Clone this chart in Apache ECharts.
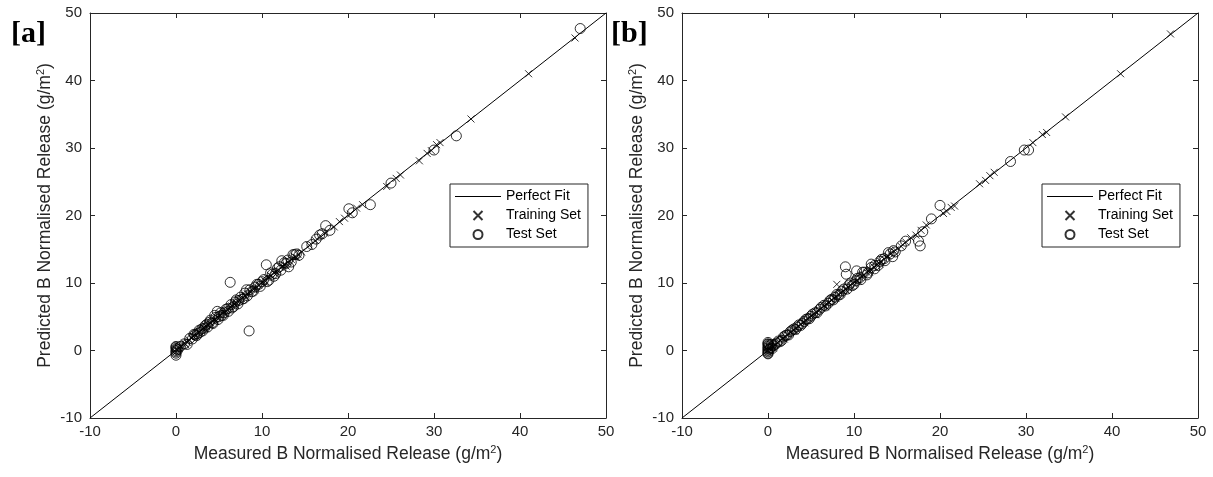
<!DOCTYPE html>
<html>
<head>
<meta charset="utf-8">
<script src="https://cdn.jsdelivr.net/npm/echarts@6/dist/echarts.min.js"></script>
<style>html,body{margin:0;padding:0;background:#fff}#c{width:1213px;height:477px}</style>
</head>
<body>
<div id="c"></div>
<script>
// ---- data ----
var panelLabels = ['[a]', '[b]'];
var seriesNames = ['Perfect Fit', 'Training Set', 'Test Set'];
var axisRange = [-10, 50];
var tickStep = 10;
var fitX = [-10, 50];
var fitY = [-10, 50];

var trainA = [[0,0.2],[0,-0.2],[0.3,0.4],[0.5,0.6],[0.8,0.9],[1,1.1],[1.3,1.2],[1.5,1.6],[1.8,1.9],[2,2.1],[2.2,2.4],[2.5,2.6],[2.7,2.8],[3,3.1],[3.2,3.4],[3.5,3.6],[3.7,3.9],[4,4.1],[4.2,4.4],[4.5,4.6],[4.8,4.9],[5,5.2],[5.3,5.4],[5.5,5.7],[5.8,5.9],[6,6.1],[6.3,6.5],[6.5,6.6],[6.8,7],[7,7.1],[7.3,7.5],[7.6,7.7],[8,8.1],[8.3,8.4],[8.6,8.8],[9,9.1],[9.3,9.5],[9.6,9.7],[10,10.1],[10.3,10.4],[10.6,10.8],[11,11.1],[11.4,11.5],[11.8,11.9],[12.2,12.3],[12.6,12.7],[13,13.1],[13.4,13.5],[13.8,13.9],[14.2,14.2],[14.6,14.6],[15.5,15.6],[16.2,16.3],[16.8,17],[17.3,17.4],[18.4,18.3],[19,19.1],[19.6,19.6],[20.3,20.2],[21,21.1],[21.7,21.6],[24.5,24.3],[25.6,25.5],[26.1,26],[28.3,28.1],[29.2,29.2],[29.7,29.6],[30.3,30.5],[30.7,30.8],[34.3,34.3],[41,41],[46.4,46.3],
  [1.1,0.9],[2.3,2.1],[3.4,3.2],[4.6,4.3],[5.7,5.5],[6.9,6.7],[8.1,7.9],[9.2,9],[10.4,10.2],[11.6,11.3],[12.8,12.5],[14,13.8]];
var testA = [[0,-0.7],[0,-0.4],[0,0],[0,0.3],[0,0.6],[0.1,0.2],[1,1],[1.3,0.9],[2.2,2.3],[2.5,2.5],[2.8,2.7],[3,3.2],[3.3,3.3],[3.6,3.9],[3.9,4.2],[4.2,4.1],[4.5,5.2],[4.8,5.8],[5,5],[5.3,5.2],[5.6,5.6],[6,6.2],[6.3,10.1],[6.5,6.3],[6.9,7.2],[7.3,7.4],[7.7,7.6],[8,8.5],[8.2,9],[8.5,2.9],[8.8,8.7],[9.2,9.4],[9.6,9.8],[10,10.2],[10.5,12.7],[10.8,10.4],[11.2,11.3],[11.6,11.4],[12,12.4],[12.3,13.3],[12.8,12.9],[13.1,12.4],[13.6,14.2],[14,14.3],[16.3,16.5],[16.7,17.1],[17.4,18.5],[17.9,17.8],[20.1,21],[20.5,20.4],[22.6,21.6],[25,24.8],[30,29.7],[32.6,31.8],[47,47.7],
  [0,-0.2],[0,0.5],[0.2,0.1],[0.5,0.6],[1.6,1.8],[1.9,1.7],[2.1,2.4],[2.4,2.2],[2.7,3],[3.1,2.9],[3.4,3.7],[3.7,3.5],[4,4.5],[4.3,4],[4.6,4.9],[4.9,4.6],[5.2,5.6],[5.5,5.2],[5.8,6.1],[6.1,5.8],[6.4,6.8],[6.7,6.5],[7,7.5],[7.2,6.9],[7.5,7.9],[7.9,7.7],[8.3,8.1],[8.6,9],[9,8.8],[9.4,9.8],[9.8,9.5],[10.2,10.5],[10.6,10.2],[11,11.5],[11.4,11],[11.8,12.2],[12.2,11.9],[12.6,13],[13,13.4],[13.4,13.1],[13.8,14.2],[14.3,14.1],[15.2,15.4],[15.8,15.7],[17,17.3]];

var trainB = [[0,0.1],[0,-0.3],[0.2,0.5],[0.5,0.6],[0.8,0.8],[1.1,1.2],[1.4,1.5],[1.7,1.8],[2,2.1],[2.3,2.4],[2.6,2.7],[2.9,3],[3.2,3.3],[3.5,3.6],[3.8,3.9],[4.1,4.2],[4.4,4.5],[4.7,4.8],[5,5.1],[5.3,5.4],[5.6,5.7],[5.9,6],[6.2,6.3],[6.5,6.6],[6.8,6.9],[7.1,7.2],[7.4,7.5],[7.7,7.8],[8,9.8],[8.1,8.2],[8.4,8.5],[8.7,8.8],[9,9.1],[9.3,9.4],[9.6,9.7],[9.9,10],[10.3,10.4],[10.7,10.8],[11.1,11.2],[11.5,11.6],[11.9,12],[12.3,12.4],[12.7,12.8],[13.1,13.2],[13.5,13.6],[13.9,14],[14.3,14.4],[14.8,14.9],[15.5,15.4],[16,16.1],[16.6,16.7],[17.2,17.1],[17.8,17.8],[18.4,18.6],[20.4,20.3],[20.8,20.6],[21.3,21.2],[21.7,21.4],[24.6,24.7],[25.3,25.2],[25.8,25.9],[26.3,26.4],[30.8,30.8],[31.9,32],[32.4,32.3],[34.6,34.6],[41,41],[46.8,46.9],
  [0.6,0.4],[1.9,1.7],[3.1,2.9],[4.3,4.1],[5.5,5.3],[6.7,6.5],[7.9,7.7],[9.1,8.9],[10.5,10.3],[11.8,11.6],[13,12.8]];
var testB = [[0,-0.5],[0,-0.2],[0,0.2],[0,0.6],[0,0.9],[0,1.2],[0.3,0.4],[0.6,0.7],[1,1.1],[1.4,1.3],[1.8,2],[2.2,2.3],[2.6,2.8],[3,3.2],[3.4,3.5],[3.8,3.7],[4.2,4.3],[4.6,4.7],[5,5.1],[5.5,5.6],[6,6.1],[6.5,6.7],[7,7],[7.4,7.6],[7.8,7.9],[8.2,8.2],[8.6,8.8],[9,12.4],[9.1,11.3],[9.4,9.7],[9.8,9.6],[10.2,10.3],[10.3,11.8],[10.7,10.8],[11,11.6],[11.5,11.2],[12,12.8],[12.4,12.1],[13,13.2],[13.5,13.6],[14,14.5],[14.5,13.9],[14.6,14.8],[15.5,15.5],[16,16.2],[17.5,16.2],[17.7,15.5],[18,17.6],[19,19.5],[20,21.5],[28.2,28],[29.8,29.7],[30.3,29.7],
  [0,0],[0,0.4],[0,1.0],[0,-0.4],[0.1,0.8],[0.2,0.2],[0.4,0.9],[0.5,0.3],[0.8,0.9],[1.2,1.4],[1.6,1.5],[2,2.2],[2.4,2.3],[2.8,3],[3.2,3.1],[3.6,3.8],[4,4],[4.4,4.6],[4.8,4.7],[5.2,5.4],[5.7,5.6],[6.2,6.4],[6.7,6.6],[7.2,7.4],[7.6,7.5],[8,8.3],[8.4,8.3],[8.8,9.1],[9.2,9.1],[9.6,10],[10,9.8],[10.4,10.7],[10.8,10.5],[11.2,11.6],[11.6,11.5],[12,12.3],[12.4,12.6],[12.8,12.6],[13.2,13.5],[13.6,13.3],[14.2,14.3],[14.8,14.6]];

var xTitle = '{t|Measured B Normalised Release (g/m}{s|2}{t|)}';
var yTitle = '{t|Predicted B Normalised Release (g/m}{s|2}{t|)}';

// ---- chart ----
var ink = '#262626';
var FONT = 'Liberation Sans, Arial, sans-serif';
var rich = {
  t: {fontSize: 17.5, fontFamily: FONT, color: ink},
  s: {fontSize: 11, fontFamily: FONT, color: ink, padding: [0, 0, 10, 0]}
};
function mainAxis(gi, pos, title, isX) {
  return {
    type: 'value', gridIndex: gi, position: pos,
    min: axisRange[0], max: axisRange[1], interval: tickStep,
    name: title, nameLocation: 'middle', nameGap: isX ? 26 : 34,
    nameTextStyle: {rich: rich},
    axisLine: {show: true, onZero: false, lineStyle: {color: ink, width: 1}},
    axisTick: {show: true, inside: true, length: 5, lineStyle: {color: ink}},
    axisLabel: {show: true, color: ink, fontSize: 15, fontFamily: FONT, margin: isX ? 6 : 8},
    splitLine: {show: false}
  };
}
function sideAxis(gi, pos) {
  return {
    type: 'value', gridIndex: gi, position: pos,
    min: axisRange[0], max: axisRange[1], interval: tickStep,
    axisLine: {show: true, onZero: false, lineStyle: {color: ink, width: 1}},
    axisTick: {show: true, inside: true, length: 5, lineStyle: {color: ink}},
    axisLabel: {show: false}, splitLine: {show: false}
  };
}
var xMark = 'path://M0,0L10,10M10,0L0,10';
var lineIcon = 'path://M0,0H46V1H0Z';
function panelSeries(ai, train, test) {
  return [
    {name: seriesNames[0], type: 'line', xAxisIndex: ai, yAxisIndex: ai,
     data: fitX.map(function (v, i) { return [v, fitY[i]]; }),
     symbol: 'none', itemStyle: {color: '#000'}, lineStyle: {color: '#000', width: 1}, silent: true, z: 1},
    {name: seriesNames[1], type: 'scatter', xAxisIndex: ai, yAxisIndex: ai,
     data: train, symbol: xMark, symbolSize: 7,
     itemStyle: {color: 'rgba(0,0,0,0)', borderColor: '#000', borderWidth: 1}, z: 2},
    {name: seriesNames[2], type: 'scatter', xAxisIndex: ai, yAxisIndex: ai,
     data: test, symbol: 'circle', symbolSize: 10,
     itemStyle: {color: 'rgba(0,0,0,0)', borderColor: '#000', borderWidth: 1}, z: 3}
  ];
}
function legend(left) {
  return {
    orient: 'vertical', left: left, top: 184,
    data: [
      {name: seriesNames[0], icon: lineIcon, itemStyle: {color: '#000', borderWidth: 0}},
      {name: seriesNames[1]},
      {name: seriesNames[2]}
    ],
    itemWidth: 46, itemHeight: 9, itemGap: 0,
    padding: [3, 7, 3, 5],
    borderColor: ink, borderWidth: 1, backgroundColor: '#fff',
    textStyle: {fontSize: 14, fontFamily: FONT, color: '#000', lineHeight: 19},
    selectedMode: false
  };
}
var chart = echarts.init(document.getElementById('c'), null, {renderer: 'canvas'});
chart.setOption({
  animation: false,
  backgroundColor: '#fff',
  grid: [
    {left: 90, top: 13, width: 516, height: 405},
    {left: 682, top: 13, width: 516, height: 405}
  ],
  xAxis: [mainAxis(0, 'bottom', xTitle, true), sideAxis(0, 'top'),
          mainAxis(1, 'bottom', xTitle, true), sideAxis(1, 'top')],
  yAxis: [mainAxis(0, 'left', yTitle, false), sideAxis(0, 'right'),
          mainAxis(1, 'left', yTitle, false), sideAxis(1, 'right')],
  legend: [legend(450), legend(1042)],
  graphic: [
    {type: 'text', left: 11, top: 19, style: {text: panelLabels[0], font: 'bold 30px "Liberation Serif", "Times New Roman", serif', fill: '#000'}},
    {type: 'text', left: 611, top: 19, style: {text: panelLabels[1], font: 'bold 30px "Liberation Serif", "Times New Roman", serif', fill: '#000'}}
  ],
  series: panelSeries(0, trainA, testA).concat(panelSeries(2, trainB, testB))
});
</script>
</body>
</html>
